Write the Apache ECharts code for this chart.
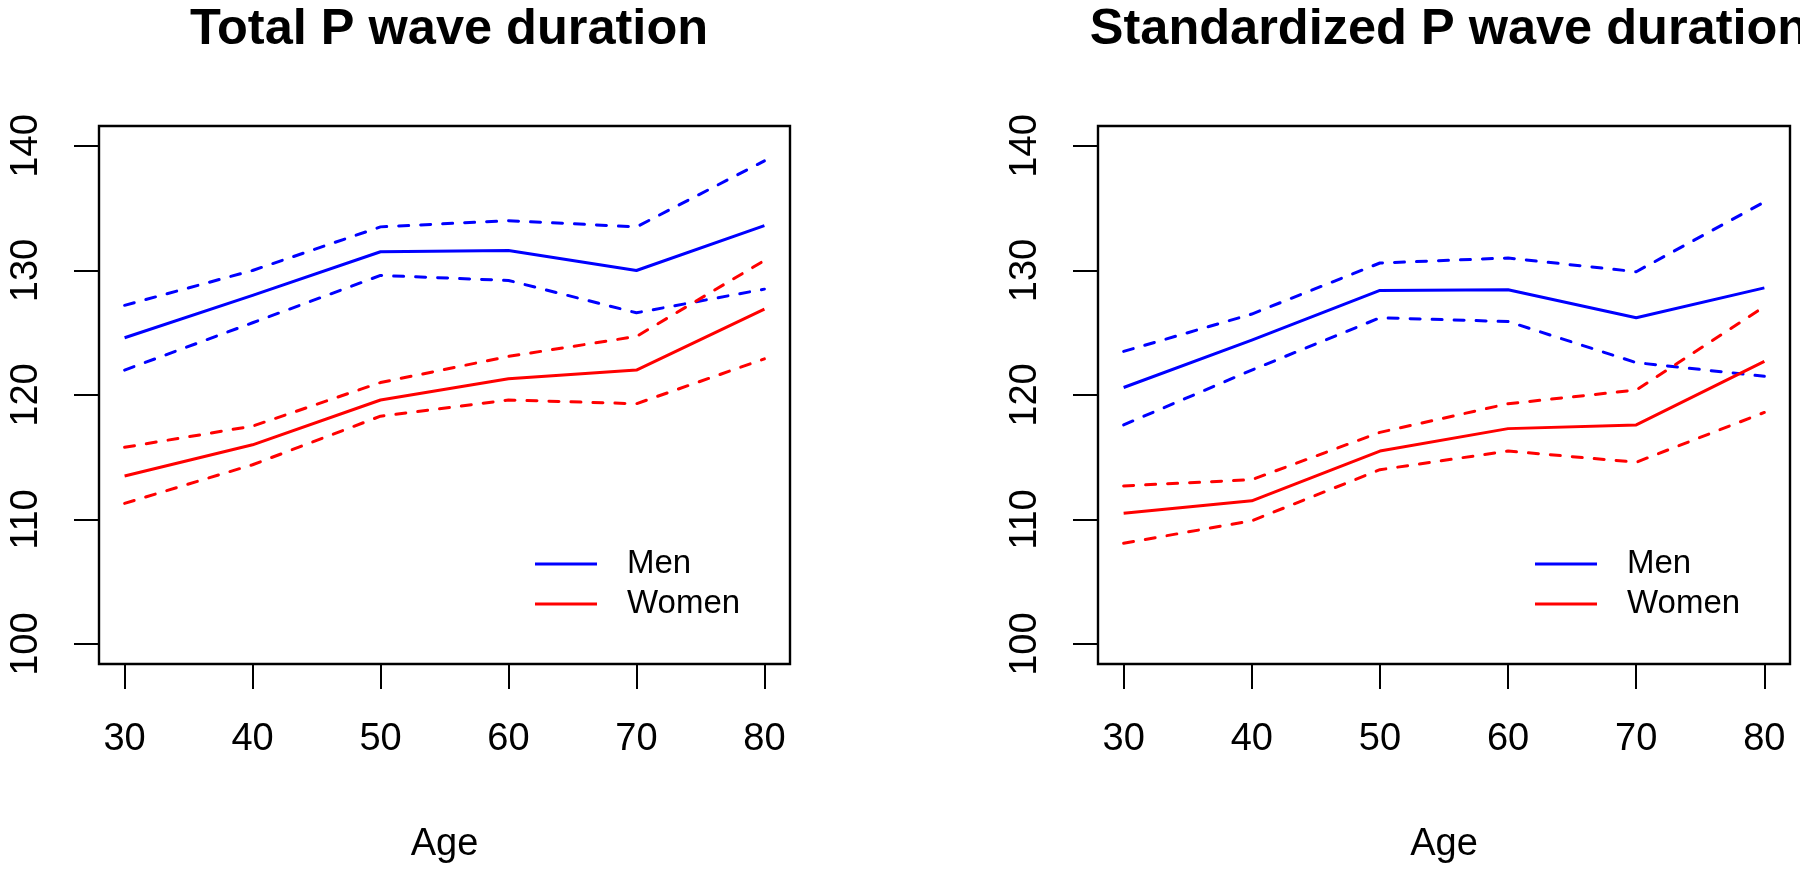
<!DOCTYPE html>
<html>
<head>
<meta charset="utf-8">
<script src="https://cdn.jsdelivr.net/npm/echarts@6/dist/echarts.min.js"></script>
<style>
html,body{margin:0;padding:0;background:#fff;}
#chart{width:1800px;height:869px;}
</style>
</head>
<body>
<div id="chart"></div>
<script>
// ---- data ----
var ages = [30, 40, 50, 60, 70, 80];
var yTicks = [100, 110, 120, 130, 140];
var titles = ['Total P wave duration', 'Standardized P wave duration'];
var xLabel = 'Age';

// Panel 1: Total P wave duration
var totMen      = [124.6, 128.0, 131.5, 131.6, 130.0, 133.6];
var totMenUp    = [127.2, 130.0, 133.5, 134.0, 133.5, 138.8];
var totMenLo    = [122.0, 125.8, 129.6, 129.2, 126.6, 128.5];
var totWomen    = [113.5, 116.0, 119.6, 121.3, 122.0, 126.9];
var totWomenUp  = [115.8, 117.5, 121.0, 123.1, 124.7, 130.8];
var totWomenLo  = [111.3, 114.4, 118.3, 119.6, 119.3, 122.9];

// Panel 2: Standardized P wave duration
var stdMen      = [120.6, 124.4, 128.4, 128.45, 126.2, 128.6];
var stdMenUp    = [123.5, 126.5, 130.6, 131.0, 129.9, 135.5];
var stdMenLo    = [117.6, 122.0, 126.2, 125.9, 122.6, 121.5];
var stdWomen    = [110.5, 111.5, 115.5, 117.3, 117.6, 122.7];
var stdWomenUp  = [112.7, 113.2, 117.0, 119.3, 120.4, 127.1];
var stdWomenLo  = [108.1, 109.9, 114.0, 115.5, 114.6, 118.6];

// ---- styling ----
var FONT = 'Liberation Sans, Arial, Helvetica, sans-serif';
var BLUE = '#0000FF', RED = '#FF0000';
var DASH = [10, 12];

function pairs(vals) { return ages.map(function (a, i) { return [a, vals[i]]; }); }

function mkSeries(name, vals, color, dashed, idx) {
  return {
    type: 'line', name: name, xAxisIndex: idx, yAxisIndex: idx,
    data: pairs(vals), symbol: 'none', silent: true, animation: false,
    lineStyle: { color: color, width: 3, type: dashed ? DASH : 'solid', cap: dashed ? 'round' : 'butt', join: 'round' },
    itemStyle: { color: color }
  };
}

function mkX(idx) {
  return {
    gridIndex: idx, type: 'value', min: 28, max: 82,
    name: xLabel, nameLocation: 'middle', nameGap: 162,
    nameTextStyle: { fontFamily: FONT, fontSize: 38, color: '#000' },
    axisLine: { show: false },
    axisTick: { show: true, length: 25, customValues: ages, lineStyle: { color: '#000', width: 2 } },
    axisLabel: { customValues: ages, margin: 57, fontFamily: FONT, fontSize: 38, color: '#000' },
    splitLine: { show: false }
  };
}
function mkY(idx) {
  return {
    gridIndex: idx, type: 'value', min: 98.4, max: 141.6,
    axisLine: { show: false },
    axisTick: { show: true, length: 25, customValues: yTicks, lineStyle: { color: '#000', width: 2 } },
    axisLabel: { customValues: yTicks, rotate: 90, margin: 53, fontFamily: FONT, fontSize: 38, color: '#000' },
    splitLine: { show: false }
  };
}
function mkLegend(left) {
  return {
    orient: 'vertical', left: left, top: 544, padding: 0, selectedMode: false,
    icon: 'rect',
    data: ['Men', 'Women'], itemWidth: 62, itemHeight: 3, itemGap: 0,
    textStyle: { fontFamily: FONT, fontSize: 33, lineHeight: 40, color: '#000', padding: [0, 0, 0, 25] }
  };
}

var option = {
  backgroundColor: '#fff',
  animation: false,
  title: [
    { text: titles[0], left: 444, top: 0, textAlign: 'center',
      textStyle: { fontFamily: FONT, fontSize: 50.5, fontWeight: 'bold', color: '#000' } },
    { text: titles[1], left: 1444, top: 0, textAlign: 'center',
      textStyle: { fontFamily: FONT, fontSize: 50.5, fontWeight: 'bold', color: '#000' } }
  ],
  grid: [
    { left: 99, right: 1010, top: 126, bottom: 204, show: true, borderColor: '#000', borderWidth: 2.4, backgroundColor: 'transparent' },
    { left: 1098, right: 10, top: 126, bottom: 204, show: true, borderColor: '#000', borderWidth: 2.4, backgroundColor: 'transparent' }
  ],
  xAxis: [mkX(0), mkX(1)],
  yAxis: [mkY(0), mkY(1)],
  legend: [mkLegend(535), mkLegend(1535)],
  series: [
    mkSeries('Men', totMen, BLUE, false, 0),
    mkSeries('Men upper', totMenUp, BLUE, true, 0),
    mkSeries('Men lower', totMenLo, BLUE, true, 0),
    mkSeries('Women', totWomen, RED, false, 0),
    mkSeries('Women upper', totWomenUp, RED, true, 0),
    mkSeries('Women lower', totWomenLo, RED, true, 0),
    mkSeries('Men', stdMen, BLUE, false, 1),
    mkSeries('Men upper', stdMenUp, BLUE, true, 1),
    mkSeries('Men lower', stdMenLo, BLUE, true, 1),
    mkSeries('Women', stdWomen, RED, false, 1),
    mkSeries('Women upper', stdWomenUp, RED, true, 1),
    mkSeries('Women lower', stdWomenLo, RED, true, 1)
  ]
};

var chart = echarts.init(document.getElementById('chart'), null, { renderer: 'canvas' });
chart.setOption(option);
</script>
</body>
</html>
